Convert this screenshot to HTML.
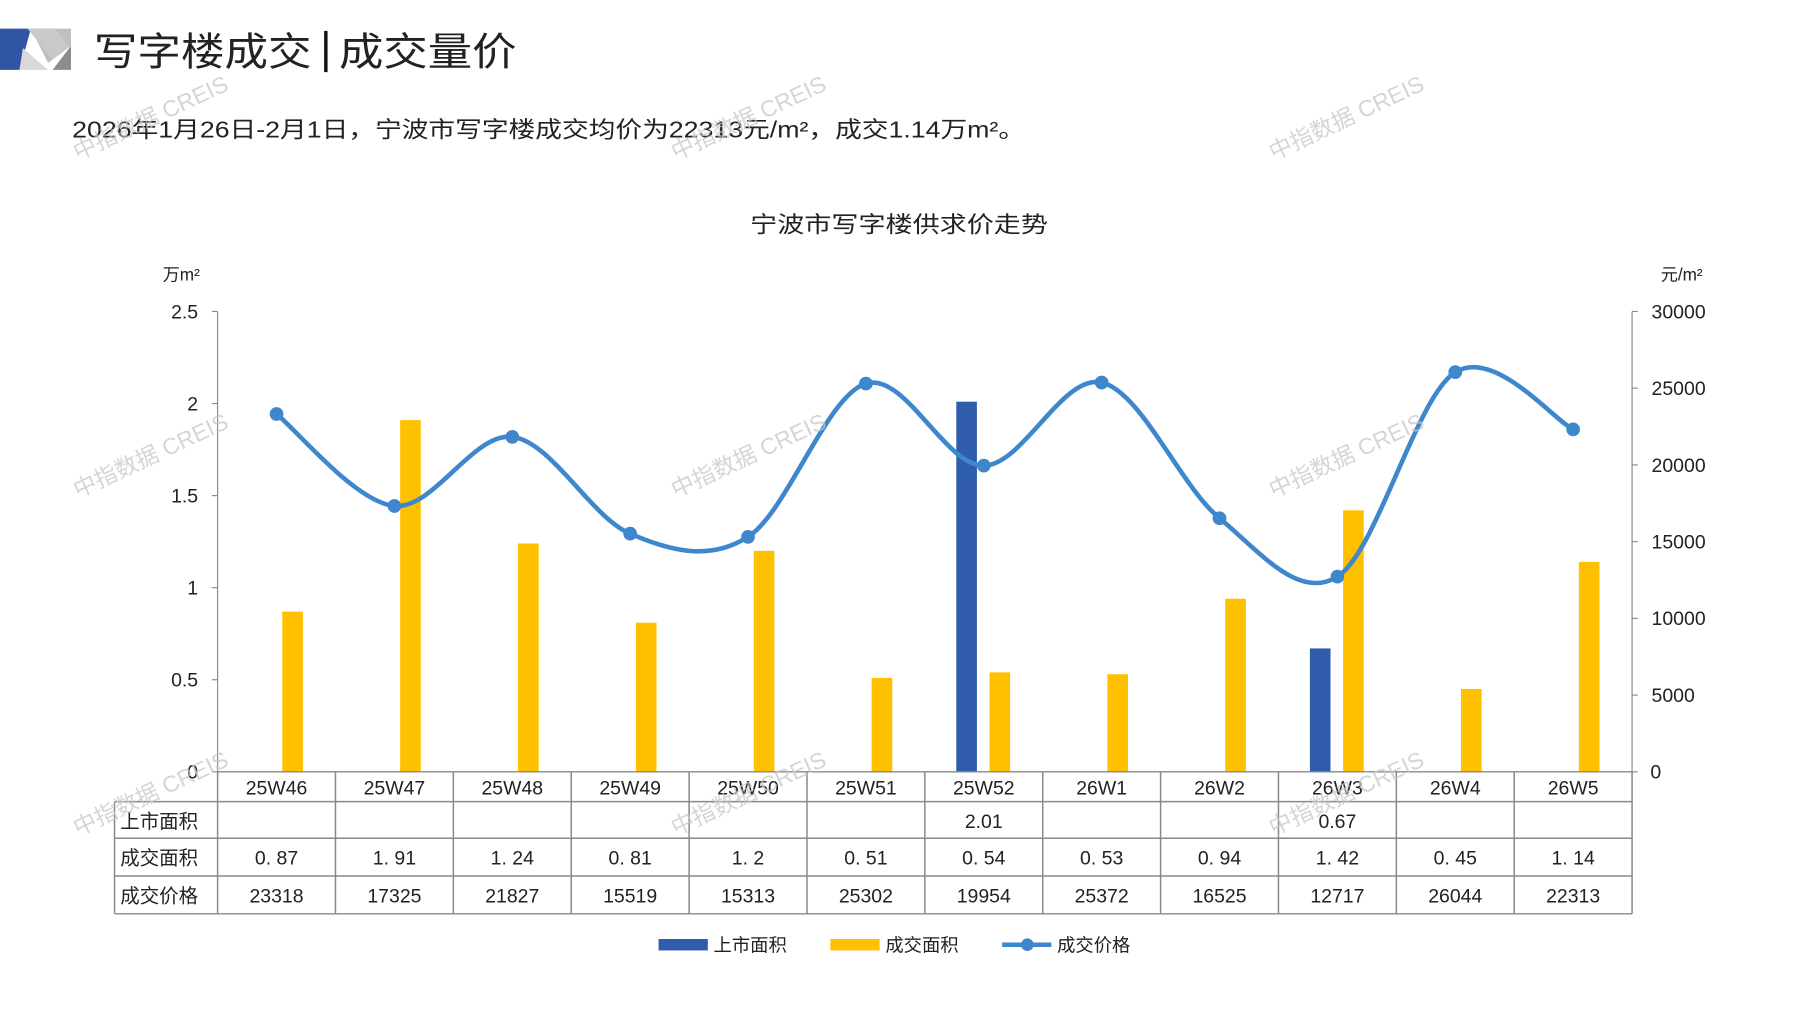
<!DOCTYPE html>
<html><head><meta charset="utf-8">
<style>
html,body{margin:0;padding:0;background:#fff;overflow:hidden}
svg{display:block}
text{font-family:"Liberation Sans","Noto Sans CJK SC",sans-serif;fill:#222}
</style></head><body>
<svg id="c" width="1797" height="1010" viewBox="0 0 1569 882" preserveAspectRatio="none" xmlns="http://www.w3.org/2000/svg">
<polygon points="0,25 27,25 17,61 0,61" fill="#2F55A4"/>
<polygon points="27,25 62,25 62,40 42,55" fill="#BFBFBF"/>
<polygon points="20,42 42,61 17,61" fill="#D9D9D9"/>
<polygon points="62,40 62,61 46,61" fill="#8C8C8C"/>
<polygon points="24,25 48,25 60,40 46,52" fill="#C9C9C9"/>
<text x="82" y="57" font-size="34" fill="#111" textLength="190" lengthAdjust="spacingAndGlyphs">写字楼成交</text>
<rect x="283" y="27" width="3" height="36" fill="#111"/>
<text x="296" y="57" font-size="34" fill="#111" textLength="155" lengthAdjust="spacingAndGlyphs">成交量价</text>
<text x="63" y="120" font-size="20" fill="#333" textLength="832" lengthAdjust="spacingAndGlyphs">2026年1月26日-2月1日，宁波市写字楼成交均价为22313元/m²，成交1.14万m²。</text>
<text x="655" y="203" font-size="20" fill="#333" textLength="260" lengthAdjust="spacingAndGlyphs">宁波市写字楼供求价走势</text>
<text x="142" y="245" font-size="15" fill="#333">万m²</text>
<text x="1450" y="245" font-size="15" fill="#333">元/m²</text>
<g id="g"></g>
<rect x="575" y="820" width="43" height="10" fill="#2F5DAB"/>
<text x="623" y="831" font-size="16">上市面积</text>
<rect x="725" y="820" width="43" height="10" fill="#FFC000"/>
<text x="773" y="831" font-size="16">成交面积</text>
<line x1="875" y1="825" x2="918" y2="825" stroke="#3F87CC" stroke-width="4"/>
<circle cx="897" cy="825" r="5.5" fill="#3F87CC"/>
<text x="923" y="831" font-size="16">成交价格</text>
</svg>
<script>
const g=document.getElementById('g');
let h='';
const x0=190,x1=1425,y0=674,yt=272,cw=(x1-x0)/12;
const cats=['25W46','25W47','25W48','25W49','25W50','25W51','25W52','26W1','26W2','26W3','26W4','26W5'];
const sup=[null,null,null,null,null,null,2.01,null,null,0.67,null,null];
const area=[0.87,1.91,1.24,0.81,1.2,0.51,0.54,0.53,0.94,1.42,0.45,1.14];
const price=[23318,17325,21827,15519,15313,25302,19954,25372,16525,12717,26044,22313];
h+=`<line x1="${x0}" y1="${yt}" x2="${x0}" y2="${y0}" stroke="#888" stroke-width="1"/>`;
h+=`<line x1="${x1}" y1="${yt}" x2="${x1}" y2="${y0}" stroke="#888" stroke-width="1"/>`;
['0','0.5','1','1.5','2','2.5'].forEach((t,i)=>{const y=y0-i*(y0-yt)/5;
 h+=`<line x1="${x0-5}" y1="${y}" x2="${x0}" y2="${y}" stroke="#888"/>`;
 h+=`<text x="173" y="${y+6}" font-size="17" text-anchor="end">${t}</text>`;});
for(let i=0;i<=6;i++){const y=y0-i*(y0-yt)/6;
 h+=`<line x1="${x1}" y1="${y}" x2="${x1+5}" y2="${y}" stroke="#888"/>`;
 h+=`<text x="${i==0?1441:1442}" y="${y+6}" font-size="17">${i*5000}</text>`;}
const k=(y0-yt)/2.5;
for(let i=0;i<12;i++){const c=x0+cw*(i+0.5);
 if(sup[i])h+=`<rect x="${c-24}" y="${y0-sup[i]*k}" width="18" height="${sup[i]*k}" fill="#2F5DAB"/>`;
 h+=`<rect x="${c+5}" y="${y0-area[i]*k}" width="18" height="${area[i]*k}" fill="#FFC000"/>`;}
const rows=[674,700,732,765,798];
h+=`<g stroke="#888" stroke-width="1.3" fill="none">`;
rows.forEach((y,i)=>{h+=`<line x1="${i==0?x0:100}" y1="${y}" x2="${x1}" y2="${y}"/>`;});
h+=`<line x1="100" y1="700" x2="100" y2="798"/>`;
for(let i=0;i<=12;i++){const x=x0+cw*i;h+=`<line x1="${x}" y1="674" x2="${x}" y2="798"/>`;}
h+=`</g>`;
h+=`<text x="105" y="723" font-size="17">上市面积</text><text x="105" y="755" font-size="17">成交面积</text><text x="105" y="788" font-size="17">成交价格</text>`;
for(let i=0;i<12;i++){const c=x0+cw*(i+0.5);
 h+=`<text x="${c}" y="694" font-size="17" text-anchor="middle">${cats[i]}</text>`;
 if(sup[i])h+=`<text x="${c}" y="723" font-size="17" text-anchor="middle">${sup[i].toFixed(2)}</text>`;
 h+=`<text x="${c}" y="755" font-size="17" text-anchor="middle">${String(area[i]).replace('.','. ')}</text>`;
 h+=`<text x="${c}" y="788" font-size="17" text-anchor="middle">${price[i]}</text>`;}
const P=price.map((v,i)=>[x0+cw*(i+0.5),y0-v/30000*(y0-yt)]);
let d=`M${P[0][0]},${P[0][1]}`;
for(let i=0;i<P.length-1;i++){const a=P[Math.max(i-1,0)],b=P[i],c=P[i+1],e=P[Math.min(i+2,P.length-1)];
 const c1=[b[0]+(c[0]-a[0])/6,b[1]+(c[1]-a[1])/6],c2=[c[0]-(e[0]-b[0])/6,c[1]-(e[1]-b[1])/6];
 d+=` C${c1[0]},${c1[1]} ${c2[0]},${c2[1]} ${c[0]},${c[1]}`;}
h+=`<path d="${d}" fill="none" stroke="#3F87CC" stroke-width="4" stroke-linecap="round"/>`;
P.forEach(p=>{h+=`<circle cx="${p[0]}" cy="${p[1]}" r="6" fill="#3F87CC"/>`;});
[[68,140],[590,140],[1112,140],[68,435],[590,435],[1112,435],[68,730],[590,730],[1112,730]].forEach(p=>{
 h+=`<text x="${p[0]}" y="${p[1]}" font-size="20" opacity="0.75" transform="rotate(-25 ${p[0]} ${p[1]})" style="fill:#c8c8c8">中指数据 CREIS</text>`;});
g.innerHTML=h;
</script>
</body></html>
